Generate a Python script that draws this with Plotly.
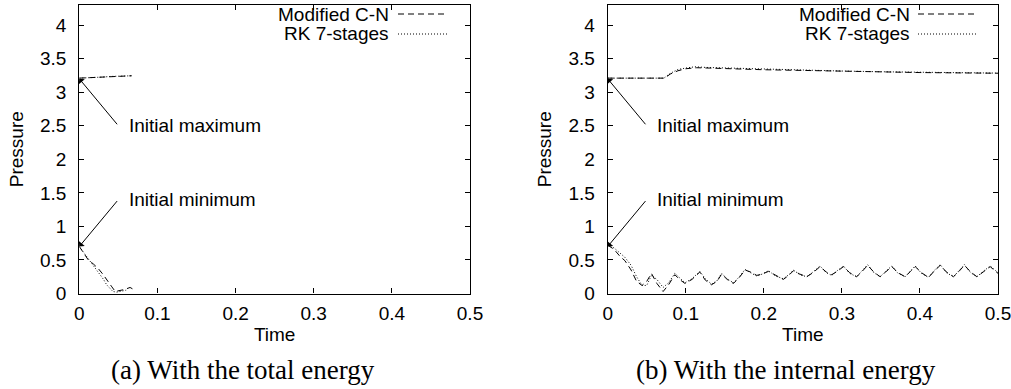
import plotly.graph_objects as go

W, H = 1011, 389

# ---------------- data ----------------
# (a) With the total energy
a_cn_max_t = [0, 0.01, 0.02, 0.03, 0.04, 0.05, 0.06, 0.067]
a_cn_max_v = [3.21, 3.215, 3.22, 3.228, 3.233, 3.238, 3.243, 3.245]
a_rk_max_t = [0, 0.01, 0.02, 0.03, 0.04, 0.05, 0.06, 0.067]
a_rk_max_v = [3.21, 3.212, 3.22, 3.226, 3.235, 3.24, 3.242, 3.245]
a_cn_min_t = [0, 0.006, 0.0115, 0.018, 0.024, 0.03, 0.035, 0.041, 0.046, 0.052, 0.058, 0.065, 0.068]
a_cn_min_v = [0.70, 0.60, 0.50, 0.44, 0.375, 0.29, 0.20, 0.11, 0.03, 0.04, 0.06, 0.09, 0.07]
a_rk_min_t = [0, 0.005, 0.012, 0.018, 0.026, 0.031, 0.035, 0.04, 0.043, 0.048, 0.055, 0.06]
a_rk_min_v = [0.70, 0.62, 0.52, 0.42, 0.30, 0.21, 0.13, 0.07, 0.03, 0.02, 0.04, 0.05]

# (b) With the internal energy
b_cn_max_t = [0, 0.02, 0.04, 0.06, 0.073, 0.08, 0.09, 0.1, 0.114, 0.13, 0.15, 0.2, 0.25, 0.3, 0.35, 0.4, 0.45, 0.5]
b_cn_max_v = [3.21, 3.21, 3.21, 3.21, 3.21, 3.27, 3.32, 3.35, 3.365, 3.36, 3.35, 3.335, 3.325, 3.312, 3.302, 3.293, 3.288, 3.283]
b_rk_max_t = [0, 0.02, 0.04, 0.06, 0.072, 0.08, 0.09, 0.1, 0.112, 0.125, 0.14, 0.16, 0.2, 0.25, 0.3, 0.35, 0.4, 0.45, 0.5]
b_rk_max_v = [3.21, 3.21, 3.21, 3.21, 3.21, 3.28, 3.34, 3.36, 3.38, 3.37, 3.365, 3.355, 3.34, 3.33, 3.316, 3.305, 3.296, 3.29, 3.285]

b_cn_min_t = [0, 0.008, 0.016, 0.022, 0.03, 0.037, 0.044, 0.05, 0.056, 0.063, 0.071, 0.078,
              0.086, 0.092, 0.099, 0.108, 0.118, 0.125, 0.133, 0.14, 0.146, 0.153, 0.161, 0.168,
              0.176, 0.183, 0.191, 0.198, 0.206, 0.215, 0.225, 0.232, 0.238, 0.246, 0.255, 0.263,
              0.272, 0.28, 0.287, 0.294, 0.302, 0.31, 0.319, 0.326, 0.333, 0.341, 0.349, 0.356,
              0.364, 0.372, 0.381, 0.388, 0.394, 0.402, 0.411, 0.418, 0.426, 0.434, 0.443, 0.45,
              0.457, 0.465, 0.473, 0.481, 0.49, 0.5]
b_cn_min_v = [0.72, 0.66, 0.55, 0.49, 0.35, 0.18, 0.12, 0.18, 0.30, 0.15, 0.03, 0.13,
              0.28, 0.21, 0.15, 0.21, 0.32, 0.20, 0.13, 0.18, 0.29, 0.21, 0.15, 0.23,
              0.35, 0.32, 0.27, 0.29, 0.33, 0.27, 0.21, 0.27, 0.34, 0.29, 0.25, 0.31,
              0.40, 0.32, 0.28, 0.33, 0.40, 0.31, 0.25, 0.33, 0.42, 0.32, 0.25, 0.32,
              0.40, 0.31, 0.25, 0.33, 0.40, 0.31, 0.24, 0.33, 0.42, 0.32, 0.25, 0.33,
              0.42, 0.32, 0.25, 0.32, 0.40, 0.30]
b_rk_min_t = [0, 0.008, 0.016, 0.022, 0.03, 0.037, 0.044, 0.05, 0.056, 0.063, 0.071, 0.078,
              0.086, 0.092, 0.099, 0.108, 0.118, 0.125, 0.133, 0.14, 0.146, 0.153, 0.161, 0.168,
              0.176, 0.183, 0.191, 0.198, 0.206, 0.215, 0.225, 0.232, 0.238, 0.246, 0.255, 0.263,
              0.272, 0.28, 0.287, 0.294, 0.302, 0.31, 0.319, 0.326, 0.333, 0.341, 0.349, 0.356,
              0.364, 0.372, 0.381, 0.388, 0.394, 0.402, 0.411, 0.418, 0.426, 0.434, 0.443, 0.45,
              0.457, 0.465, 0.473, 0.481, 0.49, 0.5]
b_rk_min_v = [0.72, 0.68, 0.60, 0.54, 0.42, 0.25, 0.12, 0.12, 0.27, 0.21, 0.09, 0.16,
              0.30, 0.23, 0.16, 0.22, 0.33, 0.22, 0.14, 0.19, 0.30, 0.22, 0.16, 0.24,
              0.36, 0.31, 0.26, 0.29, 0.34, 0.26, 0.22, 0.28, 0.35, 0.28, 0.25, 0.32,
              0.41, 0.31, 0.27, 0.34, 0.41, 0.30, 0.25, 0.34, 0.43, 0.31, 0.25, 0.33,
              0.41, 0.30, 0.25, 0.34, 0.41, 0.30, 0.24, 0.34, 0.43, 0.31, 0.25, 0.34,
              0.43, 0.31, 0.25, 0.33, 0.41, 0.31]

x_ticks = [0, 0.1, 0.2, 0.3, 0.4, 0.5]
y_ticks = [0, 0.5, 1, 1.5, 2, 2.5, 3, 3.5, 4]
series_names = ["Modified C-N", "RK 7-stages"]
captions = ["(a) With the total energy", "(b) With the internal energy"]
label_max = "Initial maximum"
label_min = "Initial minimum"

# ---------------- figure ----------------
SANS = "Liberation Sans, Arial, sans-serif"
FS = 19
CN_DASH = "6px,4px"
RK_DASH = "1px,2px"

fig = go.Figure()

def add(t, v, dash, xa, ya):
    fig.add_trace(go.Scatter(x=t, y=v, mode="lines", xaxis=xa, yaxis=ya,
                             line=dict(color="black", width=1, dash=dash),
                             showlegend=False, hoverinfo="skip"))

add(a_rk_max_t, a_rk_max_v, RK_DASH, "x", "y")
add(a_cn_max_t, a_cn_max_v, CN_DASH, "x", "y")
add(a_rk_min_t, a_rk_min_v, RK_DASH, "x", "y")
add(a_cn_min_t, a_cn_min_v, CN_DASH, "x", "y")
add(b_rk_max_t, b_rk_max_v, RK_DASH, "x2", "y2")
add(b_cn_max_t, b_cn_max_v, CN_DASH, "x2", "y2")
add(b_rk_min_t, b_rk_min_v, RK_DASH, "x2", "y2")
add(b_cn_min_t, b_cn_min_v, CN_DASH, "x2", "y2")

px_x0a, px_x1a = 79.3, 470.0
px_x0b, px_x1b = 607.7, 998.0
px_ytop, px_ybot = 5.0, 293.5

ydom = [1 - px_ybot / H, 1 - px_ytop / H]

def xaxis(dom):
    return dict(domain=dom, range=[0, 0.5], tickvals=x_ticks, automargin=False,
                ticks="inside", ticklen=5, tickwidth=1, tickcolor="black",
                showline=True, linecolor="black", linewidth=1.2, mirror="ticks",
                showgrid=False, zeroline=False, ticklabeloverflow="allow",
                tickfont=dict(family=SANS, size=FS, color="black"),
                ticklabelstandoff=3,
                title=dict(text="Time", font=dict(family=SANS, size=FS, color="black"), standoff=4))

def yaxis(dom, anchor):
    return dict(domain=dom, range=[0, 4.3], tickvals=y_ticks, anchor=anchor, automargin=False,
                ticks="inside", ticklen=5, tickwidth=1, tickcolor="black",
                showline=True, linecolor="black", linewidth=1.2, mirror="ticks",
                showgrid=False, zeroline=False, ticklabeloverflow="allow",
                tickfont=dict(family=SANS, size=FS, color="black"),
                ticklabelstandoff=8,
                title=dict(text="Pressure", font=dict(family=SANS, size=FS, color="black"), standoff=11))

fig.update_layout(
    width=W, height=H,
    margin=dict(l=0, r=0, t=0, b=0, autoexpand=False),
    paper_bgcolor="white", plot_bgcolor="white",
    showlegend=False,
    xaxis=xaxis([px_x0a / W, px_x1a / W]),
    yaxis=yaxis(ydom, "x"),
    xaxis2=xaxis([px_x0b / W, px_x1b / W]),
    yaxis2=yaxis(ydom, "x2"),
)
fig.update_layout(xaxis2=dict(anchor="y2"))

annotations = []
shapes = []
for xr, yr in (("x", "y"), ("x2", "y2")):
    for lab, head_y, tail_y in ((label_max, 3.2, 2.5), (label_min, 0.7, 1.4)):
        annotations.append(dict(x=0, y=head_y, ax=0.05, ay=tail_y, xref=xr, yref=yr,
                                axref=xr, ayref=yr, text="", showarrow=True,
                                arrowhead=1, arrowsize=1.3, arrowwidth=1, arrowcolor="black"))
        annotations.append(dict(x=0.0605, y=tail_y, xref=xr, yref=yr, text=lab,
                                showarrow=False, xanchor="left", yanchor="middle",
                                font=dict(family=SANS, size=FS, color="black")))

# manual gnuplot-style key
for txt_right, l0, l1 in ((391, 398, 447), (912, 918, 976)):
    for name, dash, py in ((series_names[0], CN_DASH, 14), (series_names[1], RK_DASH, 34)):
        annotations.append(dict(x=txt_right / W, y=1 - py / H, xref="paper", yref="paper",
                                text=name, showarrow=False, xanchor="right", yanchor="middle",
                                font=dict(family=SANS, size=FS, color="black")))
        shapes.append(dict(type="line", xref="paper", yref="paper",
                           x0=l0 / W, x1=l1 / W, y0=1 - py / H, y1=1 - py / H,
                           line=dict(color="black", width=1, dash=dash)))

for cap, cx in zip(captions, (243, 786)):
    annotations.append(dict(x=cx / W, y=1 - 370 / H, xref="paper", yref="paper",
                            text=cap, showarrow=False, xanchor="center", yanchor="middle",
                            font=dict(family="Liberation Serif, serif", size=27, color="black")))

fig.update_layout(annotations=annotations, shapes=shapes)
fig.write_html("out.html")
